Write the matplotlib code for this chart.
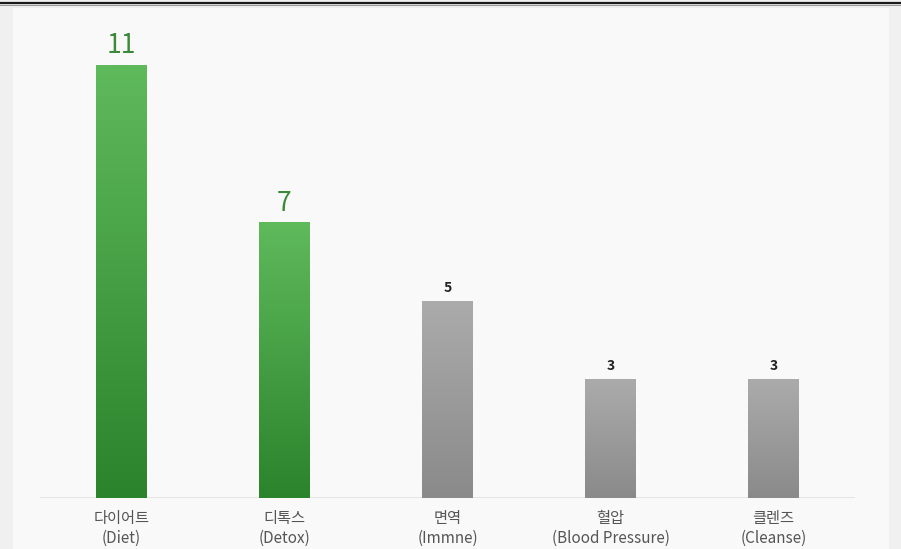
import numpy as np
import matplotlib.pyplot as plt
from matplotlib.patches import Rectangle
from matplotlib.lines import Line2D
from matplotlib.colors import LinearSegmentedColormap

plt.rcParams['font.family'] = ['Noto Sans CJK KR', 'DejaVu Sans']

labels_kr = ['다이어트', '디톡스', '면역', '혈압', '클렌즈']
labels_en = ['(Diet)', '(Detox)', '(Immne)', '(Blood Pressure)', '(Cleanse)']
counts = [11, 7, 5, 3, 3]
highlight = [True, True, False, False, False]

green = LinearSegmentedColormap.from_list('g', ['#2b832b', '#5fba5c'])
grey = LinearSegmentedColormap.from_list('k', ['#8a8a8a', '#ababab'])

fig = plt.figure(figsize=(9.01, 5.49), dpi=100, facecolor='#f0f0f0')
fig.add_artist(Rectangle((13 / 901, 0), 876 / 901, 541 / 549,
                         transform=fig.transFigure, facecolor='#f9f9f9',
                         edgecolor='none', zorder=0))
fig.add_artist(Line2D([0, 1], [546 / 549, 546 / 549], transform=fig.transFigure,
                      color='#1a1a1a', lw=1.6))
fig.add_artist(Line2D([0, 1], [544.5 / 549, 544.5 / 549], transform=fig.transFigure,
                      color='#9a9a9a', lw=0.8))

ax = fig.add_axes([40 / 901, 51 / 549, 815 / 901, 472.3 / 549])
ax.set_facecolor('none')
ind = np.arange(len(counts))
width = 0.31
bars = ax.bar(ind, counts, width, color='none', edgecolor='none')
ax.set_xlim(-0.5, len(counts) - 0.5)
ax.set_ylim(0, 12)

grad = np.linspace(0, 1, 256).reshape(-1, 1)
for b, hl in zip(bars, highlight):
    x0, w, h = b.get_x(), b.get_width(), b.get_height()
    ax.imshow(grad, extent=[x0, x0 + w, 0, h], origin='lower', aspect='auto',
              cmap=green if hl else grey, zorder=2)

for i, (c, hl) in enumerate(zip(counts, highlight)):
    if hl:
        ax.text(i, c + 0.15, str(c), ha='center', va='bottom', fontsize=19,
                color='#3a8a3a')
    else:
        ax.text(i, c + 0.17, str(c), ha='center', va='bottom', fontsize=10,
                color='#222222', fontweight='bold')

ax.axhline(0, color='#e2e2e2', lw=1.2, zorder=1)
for s in ax.spines.values():
    s.set_visible(False)
ax.set_yticks([])
ax.set_xticks(ind)
ax.set_xticklabels([k + '\n' + e for k, e in zip(labels_kr, labels_en)],
                   fontsize=11, color='#555555', linespacing=1.2)
ax.tick_params(axis='x', length=0, pad=9)

fig.savefig('out.png', dpi=100, facecolor=fig.get_facecolor())
